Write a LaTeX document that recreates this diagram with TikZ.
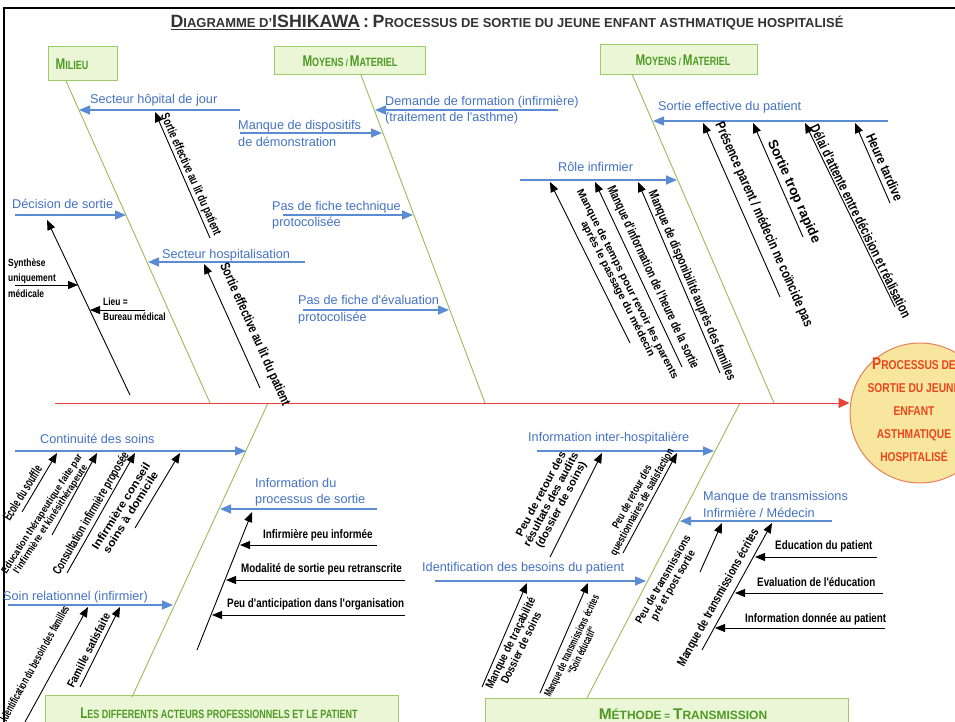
\documentclass[tikz,border=0pt]{standalone}
\usepackage{fontspec}
\usepackage{graphicx}
\setmainfont{Liberation Sans}
\newfontfamily\nb[FakeStretch=0.8]{Liberation Sans}
\newfontfamily\cn[FakeStretch=0.85]{Liberation Sans}
\newfontfamily\gn[FakeStretch=0.75]{Liberation Sans}
\newfontfamily\bl{Liberation Sans}
\usetikzlibrary{arrows.meta,calc}
\definecolor{greenL}{HTML}{9BBB59}
\definecolor{blueL}{HTML}{5B8BD3}
\definecolor{blueT}{HTML}{4472C4}
\definecolor{redL}{HTML}{E5403A}
\definecolor{boxF}{HTML}{EAF6D6}
\definecolor{boxD}{HTML}{9CCB6A}
\definecolor{boxT}{HTML}{4E9A24}
\definecolor{circF}{HTML}{F9E69E}
\definecolor{circD}{HTML}{E5805A}
\definecolor{circT}{HTML}{E8461E}
\definecolor{titleC}{HTML}{333333}
\newcommand\rt[3]{\resizebox{#1pt}{\height}{\nb\bfseries\fontsize{#2}{#2}\selectfont\begin{tabular}{@{}c@{}}#3\end{tabular}}}
\newcommand\tB[1]{{\fontsize{17.8}{17.8}\selectfont #1}}
\newcommand\tS[1]{{\fontsize{13}{13}\selectfont #1}}
\newcommand\gB[1]{{\fontsize{15.5}{15.5}\selectfont #1}}
\newcommand\gS[1]{{\fontsize{12}{12}\selectfont #1}}
\newcommand\mB[1]{{\fontsize{15.5}{15.5}\selectfont #1}}
\newcommand\mS[1]{{\fontsize{12}{12}\selectfont #1}}
\newcommand\cB[1]{{\fontsize{17}{23}\selectfont #1}}
\newcommand\conn[4]{\coordinate (#2s) at (#3); \coordinate (#2e) at (#4); \draw[#1] (#2s) -- (#2e);}
\begin{document}
\begin{tikzpicture}[x=1pt,y=-1pt,
  bone/.style={draw=greenL, line width=0.9pt},
  barr/.style={draw=blueL, line width=1.5pt, -{Triangle[length=11pt,width=9pt]}},
  karr/.style={draw=black, line width=0.9pt, -{Triangle[length=10pt,width=8pt]}},
  spine/.style={draw=redL, line width=1pt, -{Triangle[length=11pt,width=10pt]}, color=redL},
  btxt/.style={text=blueT, font=\bl\fontsize{12.7}{14}\selectfont, anchor=base west, inner sep=0pt},
  ktxt/.style={font=\nb\bfseries\fontsize{12.3}{13}\selectfont, anchor=base west, inner sep=0pt},
  stxt/.style={font=\nb\bfseries\fontsize{10.5}{12}\selectfont, anchor=base west, inner sep=0pt},
  rl/.style={inner sep=0pt, anchor=center},
  gbox/.style={draw=boxD, fill=boxF, line width=0.9pt, inner sep=0pt},
  gtxt/.style={text=boxT, font=\gn\bfseries, inner sep=0pt}]
\useasboundingbox (0,0) rectangle (955,722);
\clip (0,0) rectangle (955,722);
\fill[white] (0,0) rectangle (955,722);
\draw[line width=1.2pt] (4,8) rectangle (962,730);

% title
\node[font=\bfseries, text=titleC, anchor=base, inner sep=0pt] (title) at (507,28)
  {\underline{\tB{D}\tS{IAGRAMME D'}\tB{ISHIKAWA}} \tB{:} \tB{P}\tS{ROCESSUS DE SORTIE DU JEUNE ENFANT ASTHMATIQUE HOSPITALISÉ}};

% category boxes
\node[gbox, minimum width=69pt, minimum height=34pt] (bmil) at (82.5,63) {};
\node[gtxt] (tmil) at (72,64) {\gB{M}\gS{ILIEU}};
\node[gbox, minimum width=151pt, minimum height=28pt] (bmoy1) at (349.5,60) {};
\node[gtxt] (tmoy1) at (350,61) {\gB{M}\gS{OYENS} / \gB{M}\gS{ATERIEL}};
\node[gbox, minimum width=157pt, minimum height=30pt] (bmoy2) at (678.5,59) {};
\node[gtxt] (tmoy2) at (683,60) {\gB{M}\gS{OYENS} / \gB{M}\gS{ATERIEL}};
\node[gbox, minimum width=353pt, minimum height=44pt] (bact) at (221.5,717) {};
\node[gtxt] (tact) at (219,713) {\gB{L}\gS{ES DIFFERENTS ACTEURS PROFESSIONNELS ET LE PATIENT}};
\node[gbox, minimum width=363pt, minimum height=44pt] (bmeth) at (666.5,720) {};
\node[gtxt, font=\bfseries] (tmeth) at (683,714) {\mB{M}\mS{ÉTHODE} = \mB{T}\mS{RANSMISSION}};

% main bones
\coordinate (m1t) at (66,81);   \coordinate (m1b) at (210,403);
\coordinate (m2t) at (361,75);  \coordinate (m2b) at (485,403);
\coordinate (m3t) at (632,74);  \coordinate (m3b) at (774,403);
\coordinate (b1t) at (268,403); \coordinate (b1b) at (132,697);
\coordinate (b2t) at (740,403); \coordinate (b2b) at (587,698);
\draw[bone] (m1t) -- (m1b);
\draw[bone] (m2t) -- (m2b);
\draw[bone] (m3t) -- (m3b);
\draw[bone] (b1t) -- (b1b);
\draw[bone] (b2t) -- (b2b);

% goal and spine
\node[circle, draw=circD, fill=circF, line width=1pt, minimum size=140pt, inner sep=0pt] (goal) at (920,413) {};
\coordinate (spL) at (55,403);
\draw[spine] (spL) -- (spL -| goal.west);
\node[font=\nb\bfseries\fontsize{12.8}{23}\selectfont, text=circT, align=center, inner sep=0pt] (goalt) at (914,410)
  {\cB{P}ROCESSUS DE\\SORTIE DU JEUNE\\ENFANT\\ASTHMATIQUE\\HOSPITALISÉ};

% ---------- Milieu ----------
\node[btxt] (l1) at (90,104) {Secteur hôpital de jour};
\conn{barr}{a1}{240,110}{79,110}
\conn{karr}{k1}{210,238}{155,112}
\node[rl, rotate=-66] (r1) at (190,175) {\rt{132}{12.5}{Sortie effective au lit du patient}};

\node[btxt] (l2) at (12,208) {Décision de sortie};
\conn{barr}{a2}{15,215}{126,215}
\conn{karr}{k2}{130,395}{47,220}
\node[stxt] (t2a) at (8,266) {Synthèse};
\node[stxt] (t2b) at (8,281) {uniquement};
\node[stxt] (t2c) at (8,297) {médicale};
\conn{karr}{k3}{15,285}{78,285}
\node[stxt] (t3a) at (103,305) {Lieu =};
\node[stxt] (t3b) at (103,320) {Bureau médical};
\conn{karr}{k4}{145,310}{90,310}

\node[btxt] (l3) at (162,258) {Secteur hospitalisation};
\conn{barr}{a3}{305,262}{148,262}
\conn{karr}{k5}{260,388}{204,264}
\node[rl, rotate=-66] (r2) at (254,335) {\rt{155}{13.5}{Sortie effective au lit du patient}};

% ---------- Moyens 1 ----------
\node[btxt] (l4a) at (385,106) {Demande de formation (infirmière)};
\node[btxt] (l4b) at (385,122) {(traitement de l'asthme)};
\conn{barr}{a4}{558,110}{375,110}
\node[btxt] (l5a) at (238,130) {Manque de dispositifs};
\node[btxt] (l5b) at (238,147) {de démonstration};
\conn{barr}{a5}{240,133}{382,133}
\node[btxt] (l6a) at (272,210) {Pas de fiche technique};
\node[btxt] (l6b) at (272,226) {protocolisée};
\conn{barr}{a6}{283,215}{413,215}
\node[btxt] (l7a) at (298,304) {Pas de fiche d'évaluation};
\node[btxt] (l7b) at (298,321) {protocolisée};
\conn{barr}{a7}{303,310}{449,310}

% ---------- Moyens 2 ----------
\node[btxt] (l8) at (658,111) {Sortie effective du patient};
\conn{barr}{a8}{888,121}{653,121}
\conn{karr}{k6}{780,297}{703,123}
\conn{karr}{k7}{803,237}{753,123}
\conn{karr}{k8}{895,307}{805,123}
\conn{karr}{k9}{890,203}{855,123}
\node[rl, rotate=-66] (r3) at (763,225) {\rt{222}{14}{Présence parent / médecin ne coïncide pas}};
\node[rl, rotate=-66] (r4) at (793,192) {\rt{112}{13.5}{Sortie trop rapide}};
\node[rl, rotate=-64] (r5) at (859,222) {\rt{213}{14}{Délai d'attente entre décision et réalisation}};
\node[rl, rotate=-66] (r6) at (883,168) {\rt{72}{13.5}{Heure tardive}};

\node[btxt] (l9) at (558,172) {Rôle infirmier};
\conn{barr}{a9}{520,180}{677,180}
\conn{karr}{k10}{630,343}{550,182}
\conn{karr}{k11}{682,367}{595,182}
\conn{karr}{k12}{720,373}{638,182}
\node[rl, rotate=-63] (r7) at (622,287) {\rt{212}{10.5}{Manque de temps pour revoir les parents\\après le passage du médecin}};
\node[rl, rotate=-65] (r8) at (652,278) {\rt{200}{13}{Manque d'information de l'heure de la sortie}};
\node[rl, rotate=-67] (r9) at (691,286) {\rt{205}{13}{Manque de disponibilité auprès des familles}};

% ---------- Acteurs ----------
\node[btxt] (l10) at (40,443) {Continuité des soins};
\conn{barr}{a10}{15,451}{246,451}
\conn{karr}{k13}{22,512}{57,453}
\conn{karr}{k14}{52,535}{97,453}
\conn{karr}{k15}{67,573}{135,453}
\conn{karr}{k16}{135,528}{180,453}
\node[rl, rotate=58] (r10) at (24,494) {\rt{62}{13}{Ecole du souffle}};
\node[rl, rotate=57] (r11) at (47,517) {\rt{140}{10}{Education thérapeutique faite par\\l'infirmière et kinésithérapeute}};
\node[rl, rotate=60] (r12) at (92,514) {\rt{140}{12.5}{Consultation infirmière proposée}};
\node[rl, rotate=58] (r13) at (127,510) {\rt{100}{11}{Infirmière conseil\\soins à domicile}};

\node[btxt] (l11) at (3,600) {Soin relationnel (infirmier)};
\conn{barr}{a11}{8,605}{173,605}
\conn{karr}{k17}{25,722}{88,607}
\conn{karr}{k18}{80,687}{120,607}
\node[rl, rotate=61] (r14) at (36,664) {\rt{130}{11.5}{Identification du besoin des familles}};
\node[rl, rotate=63] (r15) at (90,651) {\rt{82}{11.5}{Famille satisfaite}};

\node[btxt] (l12a) at (255,487) {Information du};
\node[btxt] (l12b) at (255,503) {processus de sortie};
\conn{barr}{a12}{377,509}{220,509}
\conn{karr}{k19}{197,650}{252,512}
\node[ktxt] (t4) at (263,538) {Infirmière peu informée};
\conn{karr}{k20}{377,545}{240,545}
\node[ktxt] (t5) at (241,572) {Modalité de sortie peu retranscrite};
\conn{karr}{k21}{405,580}{226,580}
\node[ktxt] (t6) at (227,607) {Peu d'anticipation dans l'organisation};
\conn{karr}{k22}{405,615}{212,615}

% ---------- Methode ----------
\node[btxt] (l13) at (528,441) {Information inter-hospitalière};
\conn{barr}{a13}{537,451}{714,451}
\conn{karr}{k23}{550,557}{602,453}
\conn{karr}{k24}{623,553}{677,453}
\node[rl, rotate=62] (r16) at (552,500) {\rt{105}{11}{Peu de retour des\\résultats des audits\\(dossier de soins)}};
\node[rl, rotate=61] (r17) at (638,500) {\rt{120}{11}{Peu de retour des\\questionnaires de satisfaction}};

\node[btxt] (l14) at (422,571) {Identification des besoins du patient};
\conn{barr}{a14}{435,581}{646,581}
\conn{karr}{k25}{482,687}{527,583}
\conn{karr}{k26}{540,693}{588,583}
\node[rl, rotate=64] (r18) at (517,646) {\rt{100}{11.5}{Manque de traçabilité\\Dossier de soins}};
\node[rl, rotate=64] (r19) at (578,649) {\rt{112}{11}{Manque de transmissions écrites\\“Soin éducatif”}};

\node[btxt] (l15a) at (703,500) {Manque de transmissions};
\node[btxt] (l15b) at (703,517) {Infirmière / Médecin};
\conn{barr}{a15}{832,521}{680,521}
\conn{karr}{k27}{700,572}{722,523}
\conn{karr}{k28}{702,650}{772,523}
\node[rl, rotate=60] (r20) at (669,583) {\rt{100}{11}{Peu de transmissions\\pré et post sortie}};
\node[rl, rotate=61] (r21) at (719,598) {\rt{155}{12.5}{Manque de transmissions écrites}};
\node[ktxt] (t7) at (775,549) {Education du patient};
\conn{karr}{k29}{877,557}{755,557}
\node[ktxt] (t8) at (757,586) {Evaluation de l'éducation};
\conn{karr}{k30}{883,593}{735,593}
\node[ktxt] (t9) at (745,622) {Information donnée au patient};
\conn{karr}{k31}{885,628}{715,628}
\end{tikzpicture}
\end{document}
